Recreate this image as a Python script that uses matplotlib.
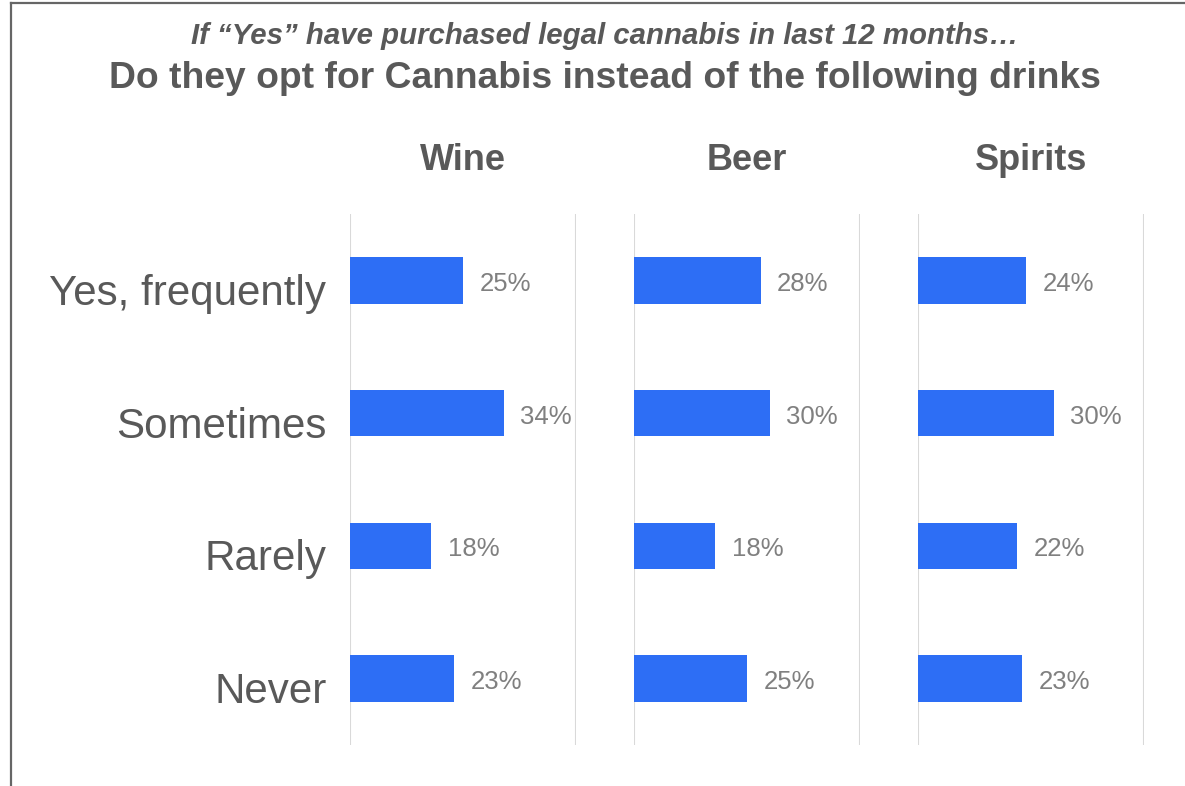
import matplotlib
matplotlib.use("Agg")
import matplotlib.pyplot as plt
from matplotlib.lines import Line2D
from matplotlib.transforms import ScaledTranslation

plt.rcParams['font.family'] = ['Liberation Sans', 'DejaVu Sans']

# Survey answers and the share of respondents per drink
answers = ["Yes, frequently", "Sometimes", "Rarely", "Never"]
drinks = ["Wine", "Beer", "Spirits"]
wine = [25, 34, 18, 23]
beer = [28, 30, 18, 25]
spirits = [24, 30, 22, 23]
series = [wine, beer, spirits]

subtitle = "If \u201cYes\u201d have purchased legal cannabis in last 12 months\u2026"
title = "Do they opt for Cannabis instead of the following drinks"

BAR = "#2D6EF5"
GRID = "#D9D9D9"
DARK = "#595959"
VALUE = "#808080"

W, H = 1185, 786
fig = plt.figure(figsize=(W / 100, H / 100), dpi=100)

panel_left = [350, 634, 918]
panel_w = 226
top_px, bottom_px = 214, 745

for i, (name, vals) in enumerate(zip(drinks, series)):
    ax = fig.add_axes([panel_left[i] / W, 1 - bottom_px / H,
                       panel_w / W, (bottom_px - top_px) / H])
    y = list(range(len(answers)))
    ax.barh(y, vals, height=0.35, color=BAR, zorder=3)
    ax.set_xlim(0, 50)
    ax.set_ylim(len(answers) - 0.5, -0.5)
    ax.set_xticks([0, 50])
    ax.grid(axis="x", color=GRID, linewidth=1.5, zorder=0)
    ax.tick_params(axis="x", length=0, labelbottom=False)
    for s in ax.spines.values():
        s.set_visible(False)
    if i == 0:
        ax.set_yticks(y)
        ax.set_yticklabels(answers, fontsize=30.3, color=DARK)
        ax.tick_params(axis="y", length=0, pad=17)
        shift = ScaledTranslation(0, -0.09, fig.dpi_scale_trans)
        for lbl in ax.get_yticklabels():
            lbl.set_transform(lbl.get_transform() + shift)
    else:
        ax.set_yticks([])
    for yy, v in zip(y, vals):
        ax.annotate(f"{v}%", xy=(v, yy), xytext=(12, -2.5), textcoords="offset points",
                    ha="left", va="center", fontsize=18.5, color=VALUE)
    cx = (panel_left[i] + panel_w / 2) / W
    fig.text(cx, 1 - 160 / H, name, ha="center", va="center",
             fontsize=26, fontweight="bold", color=DARK)

fig.text(605 / W, 1 - 36 / H, subtitle, ha="center", va="center",
         fontsize=21.2, fontweight="bold", fontstyle="italic", color=DARK)
fig.text(605 / W, 1 - 79 / H, title, ha="center", va="center",
         fontsize=26.8, fontweight="bold", color=DARK)

# frame lines along the top and left edges
fig.add_artist(Line2D([10.5 / W, 10.5 / W], [0, 1 - 3 / H], color="#666666",
                      linewidth=1.6, transform=fig.transFigure))
fig.add_artist(Line2D([10.5 / W, 1], [1 - 3 / H, 1 - 3 / H], color="#666666",
                      linewidth=1.6, transform=fig.transFigure))

fig.savefig("out.png", dpi=100)
